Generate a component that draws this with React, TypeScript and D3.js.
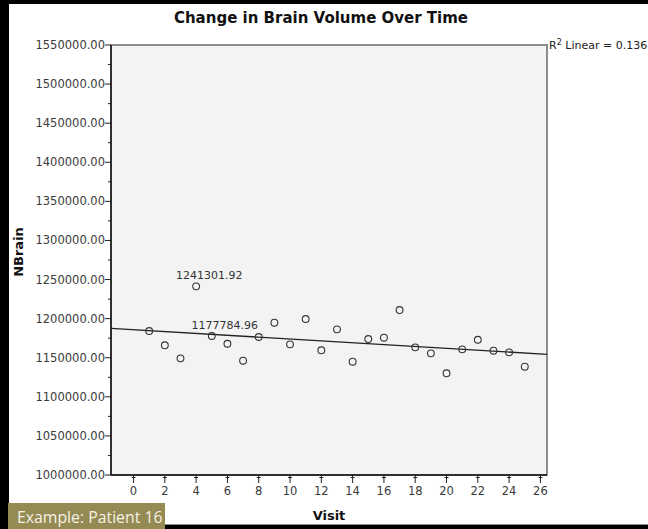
import React, { useEffect, useRef } from 'react';
import * as d3 from 'd3';

const title = 'Change in Brain Volume Over Time';
const visits = [1, 2, 3, 4, 5, 6, 7, 8, 9, 10, 11, 12, 13, 14, 15, 16, 17, 18, 19, 20, 21, 22, 23, 24, 25];
const nbrain = [
  1184100, 1165900, 1149200, 1241301.92, 1177784.96, 1167900, 1146200, 1176500, 1194800, 1167100,
  1199500, 1159500, 1186300, 1144900, 1173900, 1175600, 1211000, 1163300, 1155600, 1130100,
  1160700, 1173000, 1159000, 1156900, 1138500,
];
const labelledVisits = [4, 5];
const yTicks = [1000000, 1050000, 1100000, 1150000, 1200000, 1250000, 1300000, 1350000, 1400000, 1450000, 1500000, 1550000];
const xTicks = [0, 2, 4, 6, 8, 10, 12, 14, 16, 18, 20, 22, 24, 26];
const rSquared = '0.136';
const caption = 'Example: Patient 16';

const W = 648;
const H = 529;
const plot = { left: 111, right: 547, top: 45, bottom: 475 };
const font = '"DejaVu Sans", sans-serif';

const App = () => {
  const svgRef = useRef<SVGSVGElement>(null);

  useEffect(() => {
    const svg = d3.select(svgRef.current);
    svg.selectAll('*').remove();

    const x = d3.scaleLinear().domain([-1.44, 26.42]).range([plot.left, plot.right]);
    const y = d3.scaleLinear().domain([1000000, 1550000]).range([plot.bottom, plot.top]);
    const fmt = d3.format('.2f');

    // page frame
    svg.append('rect').attr('width', W).attr('height', H).attr('fill', '#000');
    svg.append('rect').attr('x', 9).attr('y', 4).attr('width', W - 9).attr('height', 520).attr('fill', '#fff');
    svg.append('line').attr('x1', 9).attr('x2', W).attr('y1', 524.5).attr('y2', 524.5).attr('stroke', '#888');

    // plot background + frame
    svg.append('rect')
      .attr('x', plot.left).attr('y', plot.top)
      .attr('width', plot.right - plot.left).attr('height', plot.bottom - plot.top)
      .attr('fill', '#f3f3f3').attr('stroke', '#6a6a6a').attr('stroke-width', 1.5);

    // y axis
    const gy = svg.append('g').attr('font-family', font).attr('font-size', 11.5).attr('fill', '#3a3a3a');
    yTicks.forEach(t => {
      gy.append('line').attr('x1', plot.left - 6).attr('x2', plot.left).attr('y1', y(t)).attr('y2', y(t)).attr('stroke', '#222');
      gy.append('text').attr('x', plot.left - 6).attr('y', y(t)).attr('dy', '0.35em').attr('text-anchor', 'end').text(fmt(t));
    });
    d3.pairs(yTicks).forEach(([a, b]) => {
      const m = (a + b) / 2;
      gy.append('line').attr('x1', plot.left - 3).attr('x2', plot.left).attr('y1', y(m)).attr('y2', y(m)).attr('stroke', '#222');
    });
    gy.append('line').attr('x1', plot.left).attr('x2', plot.left).attr('y1', plot.top).attr('y2', plot.bottom).attr('stroke', '#111').attr('stroke-width', 1.5);

    // x axis
    const gx = svg.append('g').attr('font-family', font).attr('font-size', 11.5).attr('fill', '#3a3a3a');
    xTicks.forEach(t => {
      gx.append('line').attr('x1', x(t)).attr('x2', x(t)).attr('y1', plot.bottom).attr('y2', plot.bottom + 8).attr('stroke', '#222');
      gx.append('line').attr('x1', x(t) - 2).attr('x2', x(t) + 2).attr('y1', plot.bottom + 2.5).attr('y2', plot.bottom + 2.5).attr('stroke', '#222');
      gx.append('text').attr('x', x(t)).attr('y', plot.bottom + 20).attr('text-anchor', 'middle').text(t);
    });
    gx.append('line').attr('x1', plot.left).attr('x2', plot.right).attr('y1', plot.bottom).attr('y2', plot.bottom).attr('stroke', '#111').attr('stroke-width', 1.5);

    // linear fit
    const mx = d3.mean(visits) as number;
    const my = d3.mean(nbrain) as number;
    const sxy = d3.sum(visits, (v, i) => (v - mx) * (nbrain[i] - my));
    const sxx = d3.sum(visits, v => (v - mx) ** 2);
    const slope = sxy / sxx;
    const icpt = my - slope * mx;
    const [x0, x1] = x.domain();
    svg.append('path')
      .datum([x0, x1])
      .attr('fill', 'none').attr('stroke', '#222').attr('stroke-width', 1.3)
      .attr('d', d3.line<number>().x(d => x(d)).y(d => y(icpt + slope * d)));

    // points
    svg.append('g').selectAll('circle')
      .data(visits)
      .join('circle')
      .attr('cx', d => x(d))
      .attr('cy', (d, i) => y(nbrain[i]))
      .attr('r', 3.4)
      .attr('fill', 'none').attr('stroke', '#333').attr('stroke-width', 1.1);

    // point labels
    svg.append('g').selectAll('text')
      .data(labelledVisits)
      .join('text')
      .attr('x', d => x(d) + 13)
      .attr('y', d => y(nbrain[d - 1]) - 7.5)
      .attr('text-anchor', 'middle')
      .attr('font-family', font).attr('font-size', 11).attr('fill', '#333')
      .text(d => fmt(nbrain[d - 1]));

    // titles
    svg.append('text').attr('x', 321).attr('y', 23).attr('text-anchor', 'middle')
      .attr('font-family', font).attr('font-weight', 'bold').attr('font-size', 15).attr('fill', '#111').text(title);
    svg.append('text').attr('x', (plot.left + plot.right) / 2).attr('y', 520).attr('text-anchor', 'middle')
      .attr('font-family', font).attr('font-weight', 'bold').attr('font-size', 13).attr('fill', '#111').text('Visit');
    svg.append('text').attr('transform', `translate(23,252) rotate(-90)`).attr('text-anchor', 'middle')
      .attr('font-family', font).attr('font-weight', 'bold').attr('font-size', 13).attr('fill', '#111').text('NBrain');

    // R² note
    const r2 = svg.append('text').attr('x', 549).attr('y', 49)
      .attr('font-family', font).attr('font-size', 11).attr('fill', '#222');
    r2.append('tspan').text('R');
    r2.append('tspan').attr('font-size', 8).attr('dy', -4).text('2');
    r2.append('tspan').attr('dy', 4).text(` Linear = ${rSquared}`);

    // caption box
    svg.append('rect').attr('x', 8).attr('y', 503).attr('width', 157).attr('height', 26).attr('fill', '#948a54');
    svg.append('text').attr('x', 17).attr('y', 523)
      .attr('font-family', '"Open Sans", sans-serif').attr('font-size', 15.8).attr('fill', '#f4f1e4').text(caption);
  }, []);

  return (
    <svg ref={svgRef} width={W} height={H} style={{ position: 'fixed', top: 0, left: 0 }}></svg>
  );
};

export default App;
